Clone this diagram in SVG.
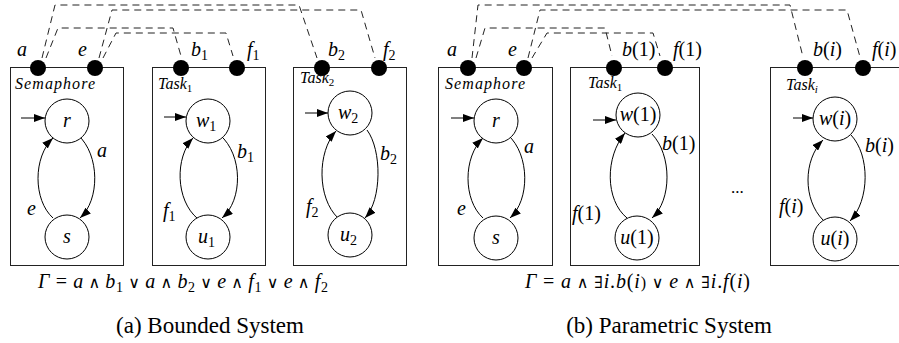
<svg xmlns="http://www.w3.org/2000/svg" width="899" height="343" viewBox="0 0 899 343">
<style>
.box{fill:none;stroke:#222;stroke-width:1}
.st{fill:#fff;stroke:#000;stroke-width:1}
.port{fill:#000}
.edge{fill:none;stroke:#000;stroke-width:1;marker-end:url(#ah)}
.dash{fill:none;stroke:#222;stroke-width:1;stroke-dasharray:7 5}
text{font-family:"Liberation Serif","DejaVu Serif",serif;fill:#000}
.m{font-size:20px;font-style:italic}
.c{text-anchor:middle}
.up{font-style:normal}
.op{font-style:normal;font-size:16px}
.sub{font-size:14px;font-style:normal}
.nm{font-size:16px;font-style:italic}
.ns{font-size:11px;font-style:normal}
.cap{font-size:23px;text-anchor:middle}
</style>
<defs>
<marker id="ah" markerUnits="userSpaceOnUse" markerWidth="11" markerHeight="8" refX="11" refY="4" orient="auto">
<path d="M0,0 L11,4 L0,8 z" fill="#000"/>
</marker>
</defs>

<g id="connectors">
<path class="dash" d="M42,58 L55,5 L299,5 L317,58"/>
<path class="dash" d="M99,58 L112,10 L361,10 L375,58"/>
<path class="dash" d="M46,58 L58,28 L173,28 L181,56"/>
<path class="dash" d="M103,58 L116,33 L226,33 L233,56"/>
<path class="dash" d="M472,58 L478,5 L790,5 L803,57"/>
<path class="dash" d="M528,58 L540,10 L847,10 L860,57"/>
<path class="dash" d="M476,58 L485,28 L605,28 L612,56"/>
<path class="dash" d="M532,58 L547,33 L653,33 L660,56"/>
</g>

<!-- (a) Bounded System -->
<g id="semaphore-a">
<rect class="box" x="10.5" y="67.5" width="113" height="198"/>
<text class="nm" x="15" y="89" textLength="80" lengthAdjust="spacing">Semaphore</text>
<path class="edge" d="M21,118 L45,118"/>
<path class="edge" d="M78,135 C100,155 100,200 80,218"/>
<path class="edge" d="M53,218 C33,200 33,157 53,138"/>
<text class="m" x="97" y="157">a</text>
<text class="m" x="27" y="215">e</text>
</g>
<g id="state-r"><circle class="st" cx="67" cy="121" r="22"/><text class="m c" x="67" y="127">r</text></g>
<g id="state-s"><circle class="st" cx="67" cy="237" r="22"/><text class="m c" x="67" y="243">s</text></g>
<g id="port-a"><circle class="port" cx="38" cy="68" r="8"/><text class="m" x="17" y="56">a</text></g>
<g id="port-e"><circle class="port" cx="95" cy="68" r="8"/><text class="m" x="78" y="56">e</text></g>

<g id="task1-a">
<rect class="box" x="152.5" y="67.5" width="113" height="198"/>
<text class="nm" x="158" y="89">Task<tspan class="ns" dy="3">1</tspan></text>
<path class="edge" d="M164,117 L186,117"/>
<path class="edge" d="M220,135 C243,155 243,200 222,218"/>
<path class="edge" d="M198,219 C175,200 175,157 193,138"/>
<text class="m" x="237" y="158">b<tspan class="sub" dy="4">1</tspan></text>
<text class="m" x="163" y="217">f<tspan class="sub" dy="4">1</tspan></text>
</g>
<g id="state-w1"><circle class="st" cx="208" cy="121" r="22"/><text class="m" x="196" y="127">w<tspan class="sub" dy="4">1</tspan></text></g>
<g id="state-u1"><circle class="st" cx="208" cy="237" r="22"/><text class="m" x="198" y="243">u<tspan class="sub" dy="4">1</tspan></text></g>
<g id="port-b1"><circle class="port" cx="181" cy="68" r="8"/><text class="m" x="191" y="56">b<tspan class="sub" dy="4">1</tspan></text></g>
<g id="port-f1"><circle class="port" cx="237" cy="68" r="8"/><text class="m" x="247" y="56">f<tspan class="sub" dy="4">1</tspan></text></g>

<g id="task2-a">
<rect class="box" x="293.5" y="67.5" width="113" height="198"/>
<text class="nm" x="300" y="83">Task<tspan class="ns" dy="3">2</tspan></text>
<path class="edge" d="M305,113 L328,113"/>
<path class="edge" d="M367,130 C382,150 382,200 365,218"/>
<path class="edge" d="M338,218 C317,198 317,152 336,131"/>
<text class="m" x="380" y="160">b<tspan class="sub" dy="4">2</tspan></text>
<text class="m" x="306" y="213">f<tspan class="sub" dy="4">2</tspan></text>
</g>
<g id="state-w2"><circle class="st" cx="350" cy="113" r="22"/><text class="m" x="338" y="119">w<tspan class="sub" dy="4">2</tspan></text></g>
<g id="state-u2"><circle class="st" cx="350" cy="235" r="22"/><text class="m" x="340" y="241">u<tspan class="sub" dy="4">2</tspan></text></g>
<g id="port-b2"><circle class="port" cx="322" cy="68" r="8"/><text class="m" x="328" y="56">b<tspan class="sub" dy="4">2</tspan></text></g>
<g id="port-f2"><circle class="port" cx="379" cy="68" r="8"/><text class="m" x="383" y="56">f<tspan class="sub" dy="4">2</tspan></text></g>

<text id="formula-a" class="m" x="38" y="288" textLength="290" lengthAdjust="spacing">Γ<tspan class="up"> = </tspan>a<tspan class="op"> ∧ </tspan>b<tspan class="sub" dy="4">1</tspan><tspan class="op" dy="-4"> ∨ </tspan>a<tspan class="op"> ∧ </tspan>b<tspan class="sub" dy="4">2</tspan><tspan class="op" dy="-4"> ∨ </tspan>e<tspan class="op"> ∧ </tspan>f<tspan class="sub" dy="4">1</tspan><tspan class="op" dy="-4"> ∨ </tspan>e<tspan class="op"> ∧ </tspan>f<tspan class="sub" dy="4">2</tspan></text>
<text id="caption-a" class="cap" x="210" y="333">(a) Bounded System</text>

<!-- (b) Parametric System -->
<g id="semaphore-b">
<rect class="box" x="438.5" y="67.5" width="114" height="198"/>
<text class="nm" x="445" y="89" textLength="80" lengthAdjust="spacing">Semaphore</text>
<path class="edge" d="M451,118 L474,118"/>
<path class="edge" d="M508,135 C530,155 530,200 510,218"/>
<path class="edge" d="M483,218 C463,200 463,157 483,138"/>
<text class="m" x="524" y="153">a</text>
<text class="m" x="457" y="215">e</text>
</g>
<g id="state-r-b"><circle class="st" cx="496" cy="121" r="22"/><text class="m c" x="496" y="127">r</text></g>
<g id="state-s-b"><circle class="st" cx="496" cy="238" r="22"/><text class="m c" x="496" y="244">s</text></g>
<g id="port-a-b"><circle class="port" cx="468" cy="68" r="8"/><text class="m" x="447" y="56">a</text></g>
<g id="port-e-b"><circle class="port" cx="524" cy="68" r="8"/><text class="m" x="508" y="56">e</text></g>

<g id="task1-b">
<rect class="box" x="570.5" y="67.5" width="129" height="198"/>
<text class="nm" x="588" y="88">Task<tspan class="ns" dy="3">1</tspan></text>
<path class="edge" d="M593,120 L616,120"/>
<path class="edge" d="M652,134 C672,155 672,200 652,218"/>
<path class="edge" d="M627,218 C605,200 605,157 625,133"/>
<text class="m" x="662" y="150">b<tspan class="up">(1)</tspan></text>
<text class="m" x="572" y="220">f<tspan class="up">(1)</tspan></text>
</g>
<g id="state-w1-b"><circle class="st" cx="638" cy="115" r="22"/><text class="m c" x="638" y="121">w<tspan class="up">(1)</tspan></text></g>
<g id="state-u1-b"><circle class="st" cx="637" cy="238" r="22"/><text class="m c" x="637" y="244">u<tspan class="up">(1)</tspan></text></g>
<g id="port-b1-b"><circle class="port" cx="614" cy="68" r="8"/><text class="m" x="622" y="56">b<tspan class="up">(1)</tspan></text></g>
<g id="port-f1-b"><circle class="port" cx="665" cy="68" r="8"/><text class="m" x="673" y="56">f<tspan class="up">(1)</tspan></text></g>

<text id="ellipsis" class="m up" x="731" y="193" style="font-style:normal;font-size:17px">...</text>

<g id="taski-b">
<rect class="box" x="770.5" y="67.5" width="130" height="198"/>
<text class="nm" x="786" y="90">Task<tspan class="ns" dy="3" style="font-style:italic">i</tspan></text>
<path class="edge" d="M793,118 L813,118"/>
<path class="edge" d="M851,135 C870,155 870,200 850,221"/>
<path class="edge" d="M823,220 C803,200 803,160 823,140"/>
<text class="m" x="865" y="152">b<tspan class="up">(</tspan>i<tspan class="up">)</tspan></text>
<text class="m" x="779" y="213">f<tspan class="up">(</tspan>i<tspan class="up">)</tspan></text>
</g>
<g id="state-wi"><circle class="st" cx="835" cy="119" r="22"/><text class="m c" x="835" y="125">w<tspan class="up">(</tspan>i<tspan class="up">)</tspan></text></g>
<g id="state-ui"><circle class="st" cx="835" cy="239" r="22"/><text class="m c" x="835" y="245">u<tspan class="up">(</tspan>i<tspan class="up">)</tspan></text></g>
<g id="port-bi"><circle class="port" cx="805" cy="68" r="8"/><text class="m" x="813" y="56">b<tspan class="up">(</tspan>i<tspan class="up">)</tspan></text></g>
<g id="port-fi"><circle class="port" cx="863" cy="68" r="8"/><text class="m" x="872" y="56">f<tspan class="up">(</tspan>i<tspan class="up">)</tspan></text></g>

<text id="formula-b" class="m" x="525" y="288" textLength="225" lengthAdjust="spacing">Γ<tspan class="up"> = </tspan>a<tspan class="op"> ∧ ∃</tspan>i<tspan class="up">.</tspan>b<tspan class="up">(</tspan>i<tspan class="op">) ∨ </tspan>e<tspan class="op"> ∧ ∃</tspan>i<tspan class="up">.</tspan>f<tspan class="up">(</tspan>i<tspan class="up">)</tspan></text>
<text id="caption-b" class="cap" x="669" y="333">(b) Parametric System</text>
</svg>
